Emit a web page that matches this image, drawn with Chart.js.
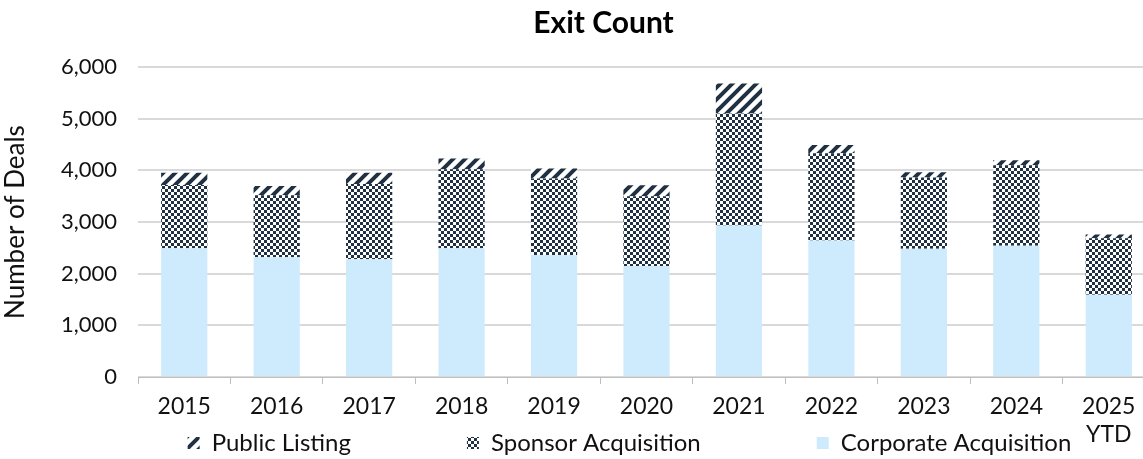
<!DOCTYPE html>
<html>
<head>
<meta charset="utf-8">
<script src="https://cdn.jsdelivr.net/npm/chart.js@4/dist/chart.umd.min.js"></script>
<style>
  html, body { margin: 0; padding: 0; background: #fff; overflow: hidden; }
  #wrap { width: 1143px; height: 459px; overflow: hidden; }
</style>
</head>
<body>
<div id="wrap"><canvas id="exitChart" width="1155" height="459"></canvas></div>
<script>
const years = ['2015', '2016', '2017', '2018', '2019', '2020', '2021', '2022', '2023', '2024', ['2025', 'YTD']];
const corporateAcq = [2490, 2320, 2280, 2490, 2360, 2150, 2930, 2640, 2480, 2540, 1590];
const sponsorAcq = [1225, 1200, 1455, 1530, 1480, 1350, 2170, 1690, 1380, 1560, 1095];
const publicListing = [240, 175, 220, 210, 195, 210, 580, 160, 105, 95, 75];

const navy = '#1f3142';
const lightBlue = '#cdebfc';

// checkerboard fill for sponsor deals
function checkerPattern() {
  const c = document.createElement('canvas');
  c.width = 6; c.height = 6;
  const g = c.getContext('2d');
  g.fillStyle = '#fff';
  g.fillRect(0, 0, 6, 6);
  g.fillStyle = navy;
  g.fillRect(0, 0, 3, 3);
  g.fillRect(3, 3, 3, 3);
  return g.createPattern(c, 'repeat');
}

// wide diagonal stripes for listings
function stripePattern() {
  const s = 12;
  const c = document.createElement('canvas');
  c.width = s; c.height = s;
  const g = c.getContext('2d');
  g.fillStyle = '#fff';
  g.fillRect(0, 0, s, s);
  g.strokeStyle = navy;
  g.lineWidth = 4;
  g.beginPath();
  g.moveTo(-2, s + 2); g.lineTo(s + 2, -2);
  g.moveTo(-2, 2); g.lineTo(2, -2);
  g.moveTo(s - 2, s + 2); g.lineTo(s + 2, s - 2);
  g.stroke();
  return g.createPattern(c, 'repeat');
}

const legendPad = 116;

// move title and legend where the original report has them
// (legend and x labels clip to their own boxes, so stretch those boxes)
const nudge = {
  id: 'nudge',
  afterLayout(chart) {
    const t = chart.titleBlock;
    if (t) { t.left += 26; t.right += 26; }
    const lg = chart.legend;
    if (lg) {
      lg.top = 431 - legendPad;
      lg.bottom = chart.height;
      lg.left += 52; lg.right += 52;
    }
    chart.scales.x.bottom = chart.height;
  }
};

const ctx = document.getElementById('exitChart').getContext('2d');
const chart = new Chart(ctx, {
  type: 'bar',
  data: {
    labels: years,
    datasets: [
      { label: 'Corporate Acquisition', data: corporateAcq, backgroundColor: lightBlue },
      { label: 'Sponsor Acquisition', data: sponsorAcq, backgroundColor: checkerPattern() },
      { label: 'Public Listing', data: publicListing, backgroundColor: stripePattern() }
    ]
  },
  options: {
    responsive: false,
    animation: false,
    layout: { padding: 0 },
    datasets: {
      bar: { categoryPercentage: 1, barPercentage: 0.5, borderWidth: 0 }
    },
    scales: {
      x: {
        stacked: true,
        grid: { offset: true, drawOnChartArea: false, color: '#bfbfbf', tickLength: 7 },
        border: { color: '#bfbfbf' },
        ticks: {
          color: '#111',
          padding: 9,
          maxRotation: 0,
          font: { family: 'Lato', size: 23, lineHeight: 1.2 }
        },
        afterFit(scale) { scale.height = 45; }
      },
      y: {
        stacked: true,
        min: 0,
        max: 6000,
        ticks: {
          stepSize: 1000,
          color: '#111',
          padding: 21,
          font: { family: 'Lato', size: 22 }
        },
        grid: { color: '#d9d9d9', drawTicks: false, lineWidth: 2 },
        border: { display: false },
        title: {
          display: true,
          text: 'Number of Deals',
          color: '#111',
          padding: { top: 0, bottom: 0 },
          font: { family: 'Lato', size: 26 }
        },
        afterFit(scale) { scale.width = 138; }
      }
    },
    plugins: {
      title: {
        display: true,
        text: 'Exit Count',
        color: '#000',
        padding: { top: 5, bottom: 26 },
        font: { family: 'Lato', size: 30, weight: 'bold' }
      },
      legend: {
        position: 'bottom',
        reverse: true,
        maxHeight: 37,
        labels: {
          boxWidth: 12,
          boxHeight: 12,
          padding: legendPad,
          color: '#111',
          font: { family: 'Lato', size: 24 }
        }
      },
      tooltip: { enabled: false }
    }
  },
  plugins: [nudge]
});
</script>
</body>
</html>
